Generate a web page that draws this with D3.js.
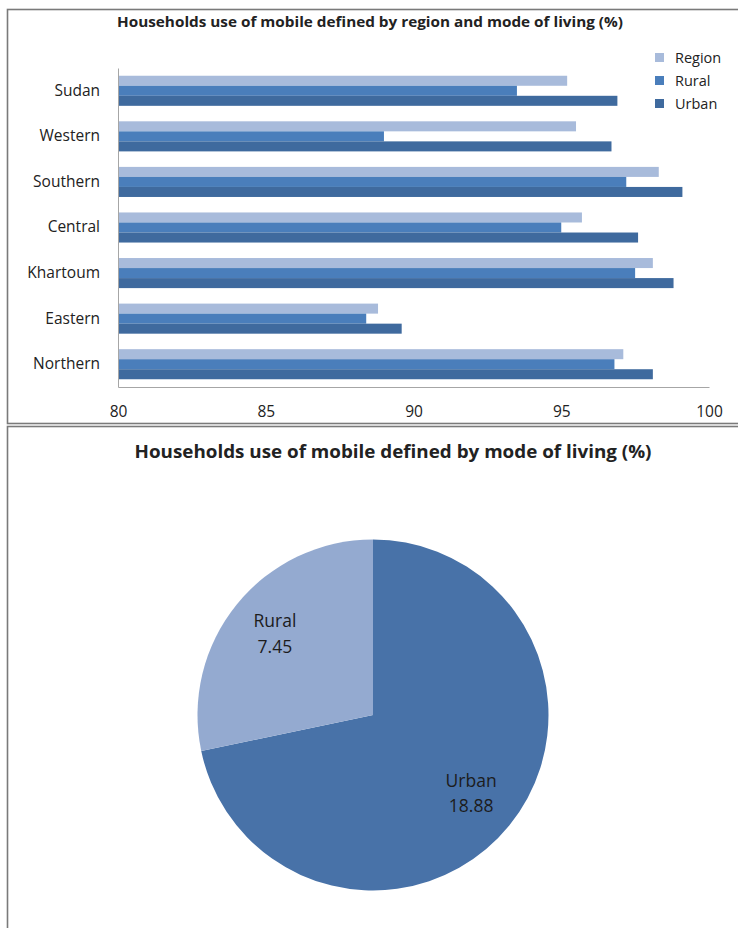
<!DOCTYPE html>
<html>
<head>
<meta charset="utf-8">
<script src="https://cdn.jsdelivr.net/npm/d3@7/dist/d3.min.js"></script>
<style>
  html, body { margin: 0; padding: 0; background: #fff; }
  svg { display: block; font-family: "Open Sans", "Liberation Sans", sans-serif; }
</style>
</head>
<body>
<svg id="chart" width="738" height="928"></svg>
<script>
// Households using mobile, by region and mode of living (%)
const regions = ["Sudan", "Western", "Southern", "Central", "Khartoum", "Eastern", "Northern"];
const seriesNames = ["Region", "Rural", "Urban"];
const regionValues = [95.2, 95.5, 98.3, 95.7, 98.1, 88.8, 97.1];
const ruralValues  = [93.5, 89.0, 97.2, 95.0, 97.5, 88.4, 96.8];
const urbanValues  = [96.9, 96.7, 99.1, 97.6, 98.8, 89.6, 98.1];
const xTicks = [80, 85, 90, 95, 100];
const seriesColors = ["#a8bbdb", "#4a7ebb", "#3f6a9e"];

// Share by mode of living
const pieLabels = ["Urban", "Rural"];
const pieValues = [18.88, 7.45];
const pieColors = ["#4872a8", "#94aad0"];

const svg = d3.select("#chart");
const textColor = "#222";

// Panel frames
svg.append("rect").attr("x", 7.5).attr("y", 9.5).attr("width", 745).attr("height", 414)
  .attr("fill", "none").attr("stroke", "#7a7a7a").attr("stroke-width", 1.6);
svg.append("rect").attr("x", 7.5).attr("y", 426.5).attr("width", 745).attr("height", 520)
  .attr("fill", "none").attr("stroke", "#7a7a7a").attr("stroke-width", 1.6);

// ---------- Bar chart ----------
svg.append("text")
  .attr("x", 370).attr("y", 27)
  .attr("text-anchor", "middle")
  .attr("font-size", 14.5).attr("font-weight", "bold").attr("fill", textColor)
  .attr("textLength", 506).attr("lengthAdjust", "spacingAndGlyphs")
  .text("Households use of mobile defined by region and mode of living (%)");

const plot = { left: 118, right: 709, top: 68, bottom: 387 };
const x = d3.scaleLinear().domain([80, 100]).range([plot.left, plot.right]);
const y = d3.scaleBand().domain(regions).range([plot.top, plot.bottom]).paddingInner(0.34).paddingOuter(0.17);
const ySub = d3.scaleBand().domain(seriesNames).range([0, y.bandwidth()]);

const rows = regions.map((r, i) => ({
  region: r,
  values: [regionValues[i], ruralValues[i], urbanValues[i]]
}));

const groups = svg.append("g").selectAll("g")
  .data(rows).join("g")
  .attr("transform", d => `translate(0,${y(d.region)})`);

groups.selectAll("rect")
  .data(d => d.values.map((v, k) => ({ series: seriesNames[k], value: v, k })))
  .join("rect")
  .attr("x", x(80))
  .attr("y", d => ySub(d.series))
  .attr("width", d => x(d.value) - x(80))
  .attr("height", ySub.bandwidth())
  .attr("fill", d => seriesColors[d.k]);

// Category axis
const yAxis = svg.append("g").attr("transform", `translate(${plot.left},0)`)
  .call(d3.axisLeft(y).tickSize(0).tickPadding(18));
yAxis.select(".domain").attr("stroke", "#a6a6a6");
yAxis.selectAll("text").attr("font-size", 15.5).attr("fill", textColor)
  .attr("font-family", "'Open Sans', sans-serif");

// Value axis
const xAxis = svg.append("g").attr("transform", `translate(0,${plot.bottom})`)
  .call(d3.axisBottom(x).tickValues(xTicks).tickSize(0).tickPadding(19));
xAxis.select(".domain").attr("stroke", "#a6a6a6");
xAxis.selectAll("text").attr("font-size", 15.5).attr("fill", textColor)
  .attr("font-family", "'Open Sans', sans-serif");

// Legend
const legend = svg.append("g").attr("transform", "translate(655,50)");
seriesNames.forEach((name, i) => {
  const g = legend.append("g").attr("transform", `translate(0,${i * 23})`);
  g.append("rect").attr("width", 9).attr("height", 9).attr("y", 3).attr("fill", seriesColors[i]);
  g.append("text").attr("x", 20).attr("y", 13).attr("font-size", 14.5).attr("fill", textColor).text(name);
});

// ---------- Pie chart ----------
svg.append("text")
  .attr("x", 393).attr("y", 458)
  .attr("text-anchor", "middle")
  .attr("font-size", 17).attr("font-weight", "bold").attr("fill", textColor)
  .attr("textLength", 517).attr("lengthAdjust", "spacingAndGlyphs")
  .text("Households use of mobile defined by mode of living (%)");

const cx = 373, cy = 715, radius = 175.5;
const pie = d3.pie().sort(null).value(d => d.value);
const pieData = pie(pieLabels.map((l, i) => ({ label: l, value: pieValues[i], color: pieColors[i] })));
const arc = d3.arc().innerRadius(0).outerRadius(radius);
const labelArc = d3.arc().innerRadius(radius * 0.72).outerRadius(radius * 0.72);

const pieG = svg.append("g").attr("transform", `translate(${cx},${cy})`);
pieG.selectAll("path").data(pieData).join("path")
  .attr("d", arc)
  .attr("fill", d => d.data.color);

const lbl = pieG.selectAll("text").data(pieData).join("text")
  .attr("transform", d => `translate(${labelArc.centroid(d)})`)
  .attr("text-anchor", "middle")
  .attr("font-size", 17.5).attr("fill", "#1c1c1c");
lbl.append("tspan").attr("x", 0).attr("dy", "-0.45em").text(d => d.data.label);
lbl.append("tspan").attr("x", 0).attr("dy", "1.45em").text(d => d.data.value.toFixed(2));
</script>
</body>
</html>
